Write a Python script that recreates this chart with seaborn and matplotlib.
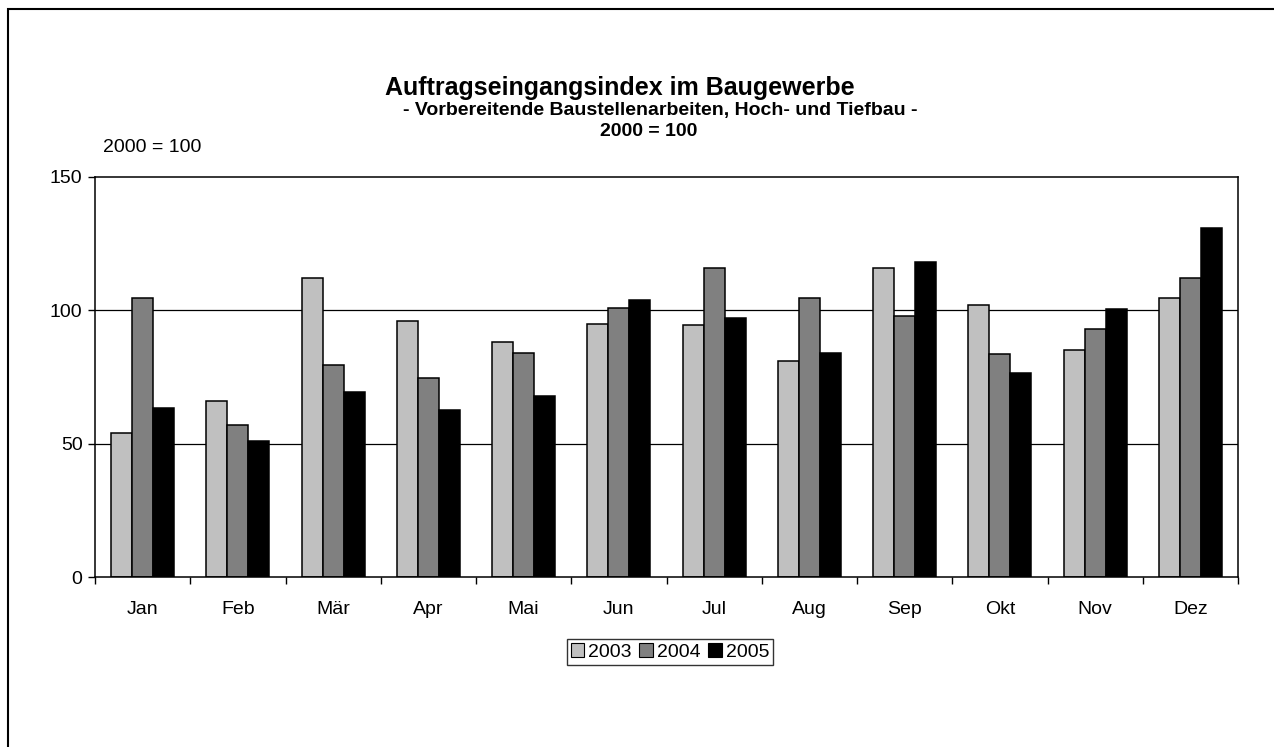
import matplotlib
matplotlib.use("Agg")
import matplotlib.pyplot as plt
import matplotlib.patches as mpatches
import pandas as pd
import seaborn as sns

months = ["Jan", "Feb", "Mär", "Apr", "Mai", "Jun", "Jul", "Aug", "Sep", "Okt", "Nov", "Dez"]
years = ["2003", "2004", "2005"]
v2003 = [54, 66, 112, 96, 88, 95, 94.5, 81, 116, 102, 85, 104.5]
v2004 = [104.5, 57, 79.5, 74.5, 84, 101, 116, 104.5, 98, 83.5, 93, 112]
v2005 = [63.5, 51, 69.5, 62.5, 68, 104, 97, 84, 118, 76.5, 100.5, 131]

df = pd.DataFrame({
    "Monat": months * 3,
    "Jahr": [y for y in years for _ in months],
    "Wert": v2003 + v2004 + v2005,
})

sns.set_style("white")
plt.rcParams["font.family"] = ["Liberation Sans", "DejaVu Sans"]
plt.rcParams["text.color"] = "black"
plt.rcParams["xtick.color"] = "black"
plt.rcParams["ytick.color"] = "black"

W, H = 1274, 747
fig = plt.figure(figsize=(W / 100, H / 100), dpi=100)
ax = fig.add_axes([95 / W, 1 - 577 / H, 1143 / W, 400 / H])

colors = ["#c0c0c0", "#808080", "#000000"]
sns.barplot(data=df, x="Monat", y="Wert", hue="Jahr", palette=colors,
            width=0.66, edgecolor="black", linewidth=1.1, saturation=1,
            errorbar=None, ax=ax, legend=False)

ax.set_xlim(-0.5, 11.5)
ax.set_ylim(0, 150)
ax.set_yticks([0, 50, 100, 150])
ax.set_xlabel("")
ax.set_ylabel("")
for y in [50, 100]:
    ax.axhline(y, color="black", lw=0.9, zorder=0)
for s in ax.spines.values():
    s.set_color("black")
    s.set_linewidth(1.1)

ax.set_xticks(range(12))
ax.set_xticklabels(months)
ax.set_xticks([i - 0.5 for i in range(13)], minor=True)
ax.tick_params(axis="x", which="major", length=0, pad=17, labelsize=14)
ax.tick_params(axis="x", which="minor", length=5, width=1, direction="out")
ax.tick_params(axis="y", length=5, width=1, direction="out", labelsize=14, pad=4)
ax.tick_params(left=True, bottom=True, which="both")

fig.text(620 / W, 1 - 88 / H, "Auftragseingangsindex im Baugewerbe",
         ha="center", va="center", fontsize=18, fontweight="bold")
fig.text(660 / W, 1 - 110 / H, "- Vorbereitende Baustellenarbeiten, Hoch- und Tiefbau -",
         ha="center", va="center", fontsize=14, fontweight="bold")
fig.text(649 / W, 1 - 131 / H, "2000 = 100",
         ha="center", va="center", fontsize=14, fontweight="bold")
fig.text(103 / W, 1 - 148 / H, "2000 = 100", ha="left", va="center", fontsize=14)

handles = [mpatches.Patch(facecolor=c, edgecolor="black", linewidth=0.8, label=y)
           for c, y in zip(colors, years)]
fig.legend(handles=handles, loc="center", bbox_to_anchor=(670 / W, 1 - 652 / H),
           ncol=3, frameon=True, fancybox=False, edgecolor="black", fontsize=14,
           handlelength=0.7, handleheight=0.7, handletextpad=0.2, columnspacing=0.4,
           borderpad=0.2, borderaxespad=0)

# outer frame (only top and left edges visible in the original)
fig.add_artist(mpatches.Rectangle((8 / W, -0.1), 1.2, 1 - 9 / H + 0.1,
                                  transform=fig.transFigure, fill=False,
                                  edgecolor="black", linewidth=1.5))

fig.savefig("out.png", dpi=100, facecolor="white")
